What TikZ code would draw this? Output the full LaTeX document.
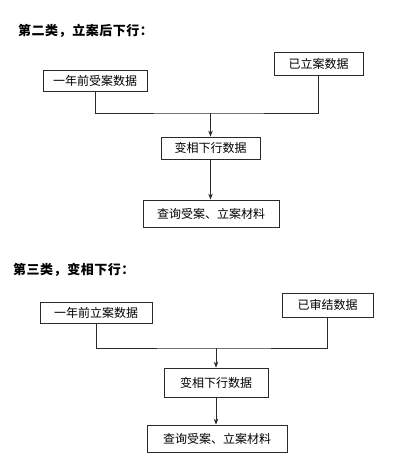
\documentclass[tikz,border=0pt]{standalone}
\usepackage{fontspec}
\setmainfont{Noto Sans CJK SC}
\newfontfamily\cjk{Noto Sans CJK SC}
\usetikzlibrary{arrows.meta}
\definecolor{ink}{HTML}{2A2A2A}
\tikzset{
  box/.style={draw=ink, line width=0.75pt, inner sep=0pt, text=black, font=\cjk\fontsize{12}{14}\selectfont},
  heading/.style={anchor=west, inner sep=0pt, text=black, font=\cjk\bfseries\fontsize{13}{15}\selectfont\addfontfeature{LetterSpace=4}},
  link/.style={draw=ink, line width=0.75pt},
  arr/.style={link, -{Stealth[length=6pt,width=4.5pt]}}
}
\begin{document}
\begin{tikzpicture}[x=1pt,y=-1pt]
\useasboundingbox (0,0) rectangle (419,462);
% ---- first diagram
\node[heading] (h1) at (18,31) {第二类，立案后下行：};
\node[box, minimum width=104pt, minimum height=21pt] (a1) at (95,80.5) {一年前受案数据};
\node[box, minimum width=89pt, minimum height=23pt] (b1) at (318.5,63.5) {已立案数据};
\node[box, minimum width=99pt, minimum height=22pt] (c1) at (210.5,148) {变相下行数据};
\node[box, minimum width=136pt, minimum height=27pt] (d1) at (211,213.5) {查询受案、立案材料};
\coordinate (j1) at (210.5,113);
\draw[link] (a1.south) |- (j1) -| (b1.south);
\draw[arr] (j1) -- (c1.north);
\draw[arr] (c1.south) -- (d1.north -| c1.south);
% ---- second diagram
\node[heading] (h2) at (13,270) {第三类，变相下行：};
\node[box, minimum width=112pt, minimum height=21pt] (a2) at (96,312.5) {一年前立案数据};
\node[box, minimum width=91pt, minimum height=24pt] (b2) at (327.5,305) {已审结数据};
\node[box, minimum width=104pt, minimum height=29pt] (c2) at (216,382.5) {变相下行数据};
\node[box, minimum width=140pt, minimum height=27pt] (d2) at (217,438.5) {查询受案、立案材料};
\coordinate (j2) at (216,348);
\draw[link] (a2.south) |- (j2) -| (b2.south);
\draw[arr] (j2) -- (c2.north);
\draw[arr] (c2.south) -- (d2.north -| c2.south);
\end{tikzpicture}
\end{document}
